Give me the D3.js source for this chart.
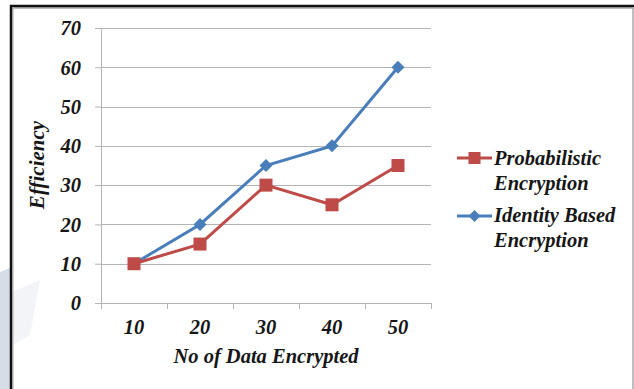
<!DOCTYPE html>
<html>
<head>
<meta charset="utf-8">
<script src="https://cdn.jsdelivr.net/npm/d3@7"></script>
<style>
  body { margin: 0; background: #fff; }
  svg { display: block; }
  text { font-family: "Liberation Serif", "Times New Roman", serif; font-weight: bold; font-style: italic; fill: #161616; }
</style>
</head>
<body>
<div id="chart"></div>
<script>
// data
let categories = [10, 20, 30, 40, 50];
let probabilistic = [10, 15, 30, 25, 35];
let identityBased = [10, 20, 35, 40, 60];
let yTicks = [0, 10, 20, 30, 40, 50, 60, 70];

let W = 634, H = 389;
let margin = {top: 28, left: 101, right: 203, bottom: 86};
let width = W - margin.left - margin.right;
let height = H - margin.top - margin.bottom;

let svg = d3.select("#chart").append("svg")
    .attr("width", W)
    .attr("height", H);

// faint watermark at the left
svg.append("path")
    .attr("d", "M0,272 L10,268 L10,389 L0,389 Z")
    .attr("fill", "#d5dde6");
svg.append("path")
    .attr("d", "M12,292 L40,280 L30,335 L12,345 Z")
    .attr("fill", "#f2f4f7");

// frame
svg.append("line").attr("x1", 10).attr("x2", 634).attr("y1", 8).attr("y2", 8)
    .attr("stroke", "#bbb").attr("stroke-width", 2);
svg.append("line").attr("x1", 10).attr("x2", 634).attr("y1", 6).attr("y2", 6)
    .attr("stroke", "#111").attr("stroke-width", 2.5);
svg.append("line").attr("x1", 13).attr("x2", 13).attr("y1", 7).attr("y2", H)
    .attr("stroke", "#c4c4c4").attr("stroke-width", 1.5);
svg.append("line").attr("x1", 11).attr("x2", 11).attr("y1", 5).attr("y2", H)
    .attr("stroke", "#111").attr("stroke-width", 2.5);
svg.append("line").attr("x1", 633).attr("x2", 633).attr("y1", 7).attr("y2", H)
    .attr("stroke", "#aaa").attr("stroke-width", 1.5);

let g = svg.append("g")
    .attr("transform", `translate(${margin.left},${margin.top})`);

// scales
let x = d3.scaleBand()
    .domain(categories)
    .range([0, width]);
let y = d3.scaleLinear()
    .domain([0, 70])
    .range([height, 0]);

// gridlines
g.append("g")
    .selectAll("line")
    .data(yTicks.filter(d => d > 0))
    .enter().append("line")
    .attr("x1", 0)
    .attr("x2", width)
    .attr("y1", d => Math.round(y(d)) + 0.5)
    .attr("y2", d => Math.round(y(d)) + 0.5)
    .attr("stroke", "#b3b3b3");

// axes
let yAxis = d3.axisLeft(y).tickValues(yTicks).tickSize(6).tickPadding(14);
let xAxis = d3.axisBottom(x).tickSize(0);

let yG = g.append("g").attr("class", "y-axis").call(yAxis);
yG.select(".domain").attr("stroke", "#b3b3b3");
yG.selectAll(".tick line").attr("stroke", "#b3b3b3");
yG.selectAll("text").attr("font-size", "20.5px").attr("font-family", null).attr("dy", "0.33em");

let xG = g.append("g").attr("class", "x-axis")
    .attr("transform", `translate(0,${height})`)
    .call(xAxis);
xG.select(".domain").attr("stroke", "#b3b3b3");
xG.selectAll("text").attr("font-size", "20.5px").attr("font-family", null)
    .attr("y", 31).attr("dy", 0);

// x band ticks
g.append("g")
    .selectAll("line")
    .data(d3.range(categories.length + 1))
    .enter().append("line")
    .attr("x1", i => Math.round(i * x.bandwidth()) + 0.5)
    .attr("x2", i => Math.round(i * x.bandwidth()) + 0.5)
    .attr("y1", height)
    .attr("y2", height + 6)
    .attr("stroke", "#b3b3b3");

// axis titles
svg.append("text")
    .attr("x", margin.left + width / 2)
    .attr("y", 363)
    .attr("text-anchor", "middle")
    .attr("font-size", "20.5px")
    .text("No of Data Encrypted");
svg.append("text")
    .attr("transform", "translate(44,165) rotate(-90)")
    .attr("text-anchor", "middle")
    .attr("font-size", "21px")
    .text("Efficiency");

let line = d3.line()
    .x((d, i) => x(categories[i]) + x.bandwidth() / 2)
    .y(d => y(d));

let red = "#be4b48", blue = "#4a7ebb";

// identity based line
g.append("path")
    .datum(identityBased)
    .attr("fill", "none")
    .attr("stroke", blue)
    .attr("stroke-width", 3)
    .attr("d", line);
g.selectAll(".ibe")
    .data(identityBased)
    .enter().append("path")
    .attr("class", "ibe")
    .attr("transform", (d, i) => `translate(${x(categories[i]) + x.bandwidth() / 2},${y(d)})`)
    .attr("d", "M0,-6.5 L6.5,0 L0,6.5 L-6.5,0 Z")
    .attr("fill", blue);

// probabilistic line
g.append("path")
    .datum(probabilistic)
    .attr("fill", "none")
    .attr("stroke", red)
    .attr("stroke-width", 3)
    .attr("d", line);
g.selectAll(".prob")
    .data(probabilistic)
    .enter().append("rect")
    .attr("class", "prob")
    .attr("x", (d, i) => x(categories[i]) + x.bandwidth() / 2 - 6.5)
    .attr("y", d => y(d) - 6.5)
    .attr("width", 13)
    .attr("height", 13)
    .attr("fill", red);

// legend
let legend = svg.append("g").attr("transform", "translate(457,158)");
legend.append("line").attr("x1", 0).attr("x2", 35).attr("y1", 0).attr("y2", 0)
    .attr("stroke", red).attr("stroke-width", 3);
legend.append("rect").attr("x", 11.5).attr("y", -6).attr("width", 12).attr("height", 12)
    .attr("fill", red);
legend.append("text").attr("x", 37).attr("y", 7).attr("font-size", "20.5px").text("Probabilistic");
legend.append("text").attr("x", 37).attr("y", 32).attr("font-size", "20.5px").text("Encryption");

legend.append("line").attr("x1", 0).attr("x2", 35).attr("y1", 58).attr("y2", 58)
    .attr("stroke", blue).attr("stroke-width", 3);
legend.append("path").attr("transform", "translate(17.5,58)")
    .attr("d", "M0,-6 L6,0 L0,6 L-6,0 Z").attr("fill", blue);
legend.append("text").attr("x", 37).attr("y", 64).attr("font-size", "20.5px").text("Identity Based");
legend.append("text").attr("x", 37).attr("y", 89).attr("font-size", "20.5px").text("Encryption");
</script>
</body>
</html>
